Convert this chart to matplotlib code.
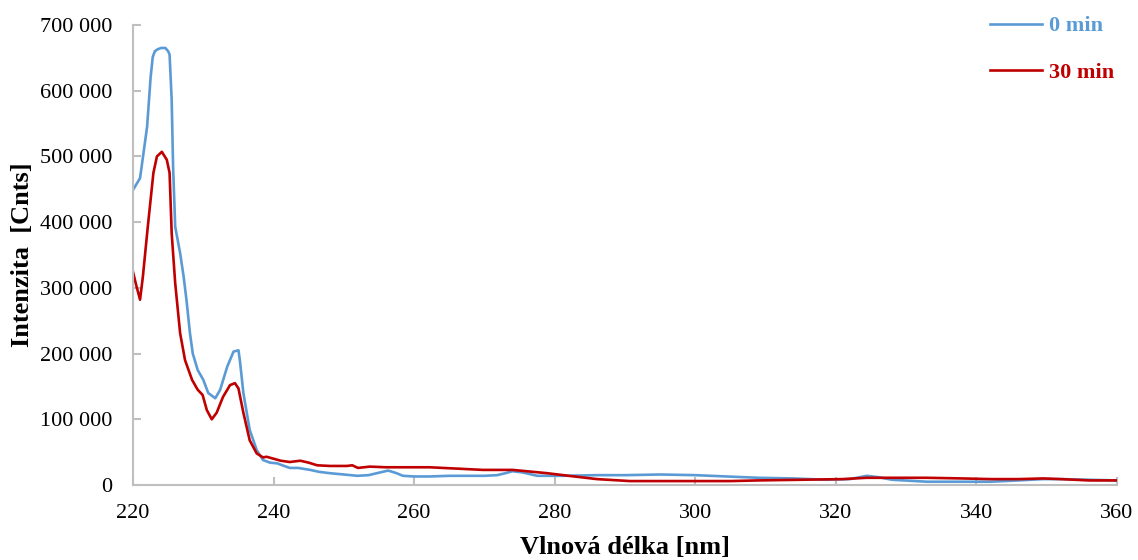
"""Emission spectra at 0 and 30 min, recreated from a reference picture."""

import matplotlib
matplotlib.use("Agg")
import matplotlib.pyplot as plt
from matplotlib.ticker import FuncFormatter, MultipleLocator

# 0 min spectrum (wavelength nm, intensity in thousands of counts)
wl_0 = [220, 221, 222, 222.5, 222.8, 223.1, 223.5, 224, 224.6, 225, 225.2,
        225.5, 225.7, 226, 226.7, 227.2, 227.6, 228.1, 228.5, 229.2, 230,
        230.7, 231.7, 232.4, 233.4, 234.3, 235, 235.2, 235.7, 236.6, 237.6,
        238.5, 239.5, 240.5, 241.5, 242.3, 243.5, 245.2, 246.5, 248, 250,
        251.9, 253.5, 254.7, 256.3, 257.5, 258.4, 260, 262.2, 265, 267, 270,
        271.8, 273, 274, 275.5, 277.5, 281, 286, 290, 295, 300, 304.5, 309,
        314, 318.7, 322, 324.4, 326, 328, 333, 338, 342, 346, 349.5, 352, 356,
        360]
int_0 = [449, 467, 545, 620, 651, 660, 663, 665, 665, 660, 655,
         586, 484, 393, 353, 317, 282, 231, 200, 175, 160,
         140, 132, 145, 180, 203, 205, 190, 140, 84, 53,
         38, 34, 33, 29, 26, 26, 23, 20, 18, 16,
         14, 15, 18, 22, 18, 14, 13, 13, 14, 14, 14,
         15, 18, 21, 19, 14, 14, 15, 15, 16, 15, 13, 11,
         10, 8, 9, 14, 12, 8, 5, 5, 5, 7, 9, 9, 8,
         7]

# 30 min spectrum
wl_30 = [220, 220.5, 221, 221.4, 222.1, 222.9, 223.4, 224.1, 224.8, 225.2,
         225.5, 226, 226.7, 227.4, 228.4, 229.2, 229.9, 230.5, 231.2, 231.9,
         232.8, 233.8, 234.5, 235, 235.7, 236.6, 237.6, 238.5, 239, 240, 241,
         242.3, 243.8, 245, 246.2, 248, 250.4, 251.2, 252, 253.7, 256, 258,
         262.2, 266, 269.8, 274, 276, 278.9, 282, 286, 290.7, 295, 300, 305,
         309, 315, 321, 324.4, 328, 333, 338, 342, 346, 349.5, 352, 356, 360]
int_30 = [324, 302, 282, 317, 393, 475, 500, 507, 495, 475,
          383, 307, 231, 190, 160, 145, 137, 114, 100, 110,
          134, 152, 155, 147, 110, 68, 48, 42, 43, 40, 37,
          35, 37, 34, 30, 29, 29, 30, 26, 28, 27, 27,
          27, 25, 23, 23, 21, 18, 14, 9, 6, 6, 6, 6,
          7, 8, 9, 11, 11, 11, 10, 9, 9, 10, 9, 7, 7]

labels = ["0 min", "30 min"]
colors = ["#5B9BD5", "#C00000"]

plt.rcParams["font.family"] = ["Liberation Serif", "DejaVu Serif"]

fig = plt.figure(figsize=(11.38, 5.6), dpi=100)
ax = fig.add_axes([0.1169, 0.1339, 0.8646, 0.8215])

ax.plot(wl_0, [v * 1000 for v in int_0], color=colors[0], lw=1.9,
        label=labels[0])
ax.plot(wl_30, [v * 1000 for v in int_30], color=colors[1], lw=1.9,
        label=labels[1])

ax.set_xlim(220, 360)
ax.set_ylim(0, 700000)
ax.xaxis.set_major_locator(MultipleLocator(20))
ax.yaxis.set_major_locator(MultipleLocator(100000))
ax.yaxis.set_major_formatter(
    FuncFormatter(lambda v, _: f"{int(v):,}".replace(",", " ")))

for side in ("top", "right"):
    ax.spines[side].set_visible(False)
for side in ("left", "bottom"):
    ax.spines[side].set_color("#BFBFBF")
    ax.spines[side].set_linewidth(1.5)
ax.tick_params(axis="both", direction="in", length=6, width=1.5,
               color="#BFBFBF", labelsize=16)
ax.tick_params(axis="x", pad=14)
ax.tick_params(axis="y", pad=15)

ax.set_xlabel("Vlnová délka [nm]", fontsize=19, fontweight="bold",
              labelpad=9)
ax.set_ylabel("Intenzita  [Cnts]", fontsize=19, fontweight="bold",
              labelpad=4)

leg = fig.legend(loc="upper left", bbox_to_anchor=(0.862, 0.9875),
                 bbox_transform=fig.transFigure, borderaxespad=0,
                 frameon=False, handlelength=2.35, handletextpad=0.3,
                 labelspacing=1.15, prop={"weight": "bold", "size": 16},
                 labelcolor="linecolor")

fig.savefig("out.png", dpi=100)
